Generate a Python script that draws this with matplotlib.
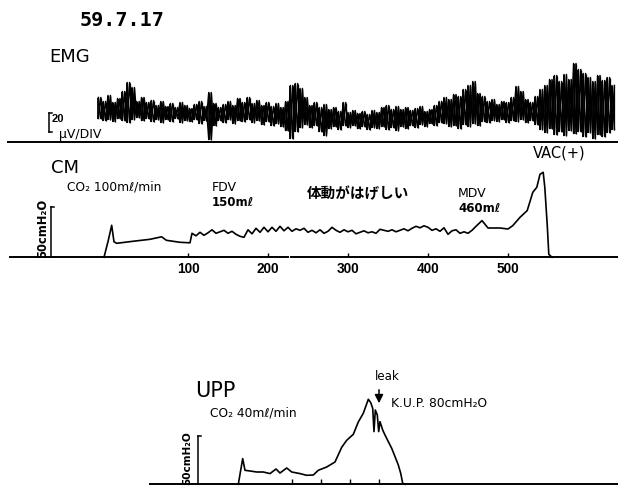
import numpy as np
import matplotlib
matplotlib.use("Agg")
import matplotlib.pyplot as plt
from matplotlib.font_manager import FontProperties

W, H = 618, 486

# ---------------- data ----------------
# EMG envelope (height above the EMG reference line, arbitrary units) sampled every 6 s from t=-12
emg_peaks = [44, 40, 46, 39, 43, 50, 59, 54, 40, 44, 39, 41, 36, 40, 35, 38, 34, 39, 36, 33,
             37, 40, 35, 49, 38, 34, 37, 40, 36, 43, 39, 44, 38, 41, 36, 39, 35, 38, 34, 40,
             56, 58, 53, 44, 36, 39, 34, 37, 32, 34, 30, 39, 29, 31, 28, 30, 27, 31, 29, 34,
             36, 32, 35, 32, 34, 31, 33, 35, 30, 32, 36, 40, 44, 42, 47, 45, 52, 56, 60, 48,
             45, 40, 42, 37, 40, 39, 44, 55, 50, 42, 39, 45, 52, 56, 62, 66, 60, 67, 62, 78,
             72, 68, 64, 60, 66, 61, 64, 56]
emg_troughs = [23, 21, 22, 20, 23, 21, 19, 22, 24, 21, 23, 20, 22, 19, 22, 20, 23, 19, 21, 20,
               22, 18, 21, 2, 16, 21, 19, 22, 18, 21, 20, 22, 19, 21, 17, 20, 16, 18, 15, 11,
               3, 10, 14, 17, 14, 16, 10, 6, 13, 15, 12, 16, 14, 16, 13, 15, 12, 14, 13, 15,
               12, 14, 11, 15, 13, 16, 14, 17, 15, 18, 16, 19, 18, 15, 16, 13, 17, 15, 18, 16,
               20, 19, 21, 20, 22, 19, 21, 20, 22, 19, 21, 17, 12, 9, 13, 7, 10, 6, 11, 8,
               10, 5, 9, 3, 7, 5, 9, 12]
emg_start, emg_step = -12, 6

# CM pressure (cmH2O) vs time (s)
cm_t = [-5, 0.4, 4.6, 7.5, 10.9, 31, 52.5, 67, 73, 90, 102.5,
        105, 110, 115, 120, 125, 130, 135, 140, 145, 150, 155, 160, 165, 170, 175, 180,
        185, 190, 195, 200, 205, 210, 215, 220, 225, 230, 235, 240, 245, 250, 255, 260,
        265, 270, 275, 280, 285, 290, 295, 300, 305, 310, 315, 320, 325, 330, 335, 340,
        345, 350, 355, 360, 365, 370, 375, 380, 385, 390, 395, 400, 405, 410, 415, 420,
        425, 430, 435, 440, 445, 450, 455, 460,
        467.5, 475, 490, 500, 506, 515, 524, 531, 536, 540, 544, 546, 549, 551, 555]
cm_p = [0, 17, 32, 15.5, 14, 16, 18, 20.5, 17, 15, 14.5,
        24, 21.5, 25, 22, 24.5, 27.5, 24, 25.5, 27, 24, 26, 23, 21, 20, 27.5, 23.5,
        29, 25, 30, 25.5, 30, 26, 31, 26.5, 30, 26, 28.5, 27, 29, 25, 27, 24.5,
        27.5, 24, 26, 30, 27, 25, 27.5, 25.5, 27, 23.5, 25, 26.5, 24.5, 25.5, 24, 28,
        27, 26, 27.5, 25.5, 27, 28.5, 26.5, 29, 31, 29.5, 31.5, 30, 27, 28.5, 26, 29.5,
        23, 26.5, 27.5, 24, 25.5, 24, 27, 31,
        36.7, 29.3, 29.3, 28.3, 31.7, 40, 46.7, 65, 70, 83, 85, 70, 33, 3, 0]
cm_ticks = [100, 200, 300, 400, 500]

# UPP pressure (cmH2O) vs time (s)
upp_t = [11.5, 26.8, 34.8, 52.3, 75.6, 98.6, 122, 142.9, 156.8, 180.1, 197.6, 226.5, 249.8,
         272.8, 290.2, 319.5, 348.4, 371.8, 389.2, 412.2, 429.6, 447, 464.5, 472.8, 479.8,
         484.3, 488.9, 495.8, 500.7, 505.2, 514.6, 522.6, 534.1, 546, 557.5, 569, 577.4,
         584.3, 592.3]
upp_p = [0, 25.7, 14, 13.3, 12.3, 12.3, 10.7, 15.3, 11.3, 16.3, 12.3, 10.7, 9,
         9.3, 14, 17.3, 22.3, 37, 44, 50, 62.3, 71, 85, 81.7, 76,
         52.7, 74.3, 69.3, 52.7, 62.7, 54.3, 49.3, 42.7, 36, 27.7, 19.3, 11,
         1, 0]
upp_ticks = [200, 300, 400, 500]

scale_bar = 50  # cmH2O

# ---------------- layout helpers ----------------
fig = plt.figure(figsize=(W / 100, H / 100), dpi=100)
fig.patch.set_facecolor("white")

def px_axes(y_top, y_bot):
    return fig.add_axes([0, 1 - y_bot / H, 1, (y_bot - y_top) / H])

def setup(ax):
    for s in ax.spines.values():
        s.set_color("none")
    ax.set_yticks([])
    ax.patch.set_alpha(0)

num_fp = FontProperties(family=["Liberation Sans", "DejaVu Sans"], weight="bold", size=9.8)

cm_x0, cm_k = 108, 0.8   # x_px = 108 + 0.8 t
def cm_xlim():
    return ((0 - cm_x0) / cm_k, (W - cm_x0) / cm_k)

# ---------------- EMG ----------------
emg_base = 141.5
ax_e = px_axes(60, 150)
setup(ax_e)
ax_e.set_xlim(*cm_xlim())
ax_e.set_ylim(-(150 - emg_base), emg_base - 60)
ax_e.set_xticks([])
n = len(emg_peaks)
tp = emg_start + emg_step * np.arange(n)
half = emg_step / 2
xa = np.empty(2 * n); ya = np.empty(2 * n)
xa[0::2] = tp; xa[1::2] = tp + half
ya[0::2] = emg_peaks; ya[1::2] = emg_troughs
xb = np.empty(2 * n); yb = np.empty(2 * n)
xb[0::2] = tp; xb[1::2] = tp + half
yb[0::2] = emg_troughs; yb[1::2] = emg_peaks
ax_e.plot(xa, ya, color="black", lw=1.1)
ax_e.plot(xb, yb, color="black", lw=1.1)
ax_e.vlines(tp, emg_troughs, emg_peaks, color="black", lw=1.3)
ax_e.vlines(tp + half, emg_troughs, emg_peaks, color="black", lw=0.9)
ax_e.plot([(8 - cm_x0) / cm_k, (W - cm_x0) / cm_k], [0, 0], color="black", lw=1.4)

# ---------------- CM ----------------
cm_base = 257.3
ax_c = px_axes(145, 282)
setup(ax_c)
ax_c.set_xlim(*cm_xlim())
ax_c.set_ylim(-(282 - cm_base), cm_base - 145)
ax_c.plot(cm_t, cm_p, color="black", lw=1.2)
ax_c.plot([(10 - cm_x0) / cm_k, (288 - cm_x0) / cm_k], [0, 0], color="black", lw=1.4)
ax_c.plot([(291 - cm_x0) / cm_k, (W - cm_x0) / cm_k], [0, 0], color="black", lw=1.4)
ax_c.spines["bottom"].set_position(("data", 0))
ax_c.set_xticks(cm_ticks)
ax_c.set_xticklabels([str(v) for v in cm_ticks], fontproperties=num_fp)
ax_c.tick_params(axis="x", direction="in", length=3, width=1, pad=3.5, color="black")
sb_t = (51 - cm_x0) / cm_k
ax_c.plot([sb_t, sb_t], [0, scale_bar], color="black", lw=1.1)
ax_c.plot([sb_t, sb_t + 3 / cm_k], [scale_bar, scale_bar], color="black", lw=1.1)

# ---------------- UPP ----------------
up_x0, up_k = 235, 0.287
upp_base = 484.3
ax_u = px_axes(360, 486)
setup(ax_u)
ax_u.set_xlim((0 - up_x0) / up_k, (W - up_x0) / up_k)
ax_u.set_ylim(-(486 - upp_base), upp_base - 360)
ax_u.plot(upp_t, upp_p, color="black", lw=1.2)
ax_u.plot([(150 - up_x0) / up_k, (W - up_x0) / up_k], [0, 0], color="black", lw=1.4)
ax_u.spines["bottom"].set_position(("data", 0))
ax_u.set_xticks(upp_ticks)
ax_u.set_xticklabels([])
ax_u.tick_params(axis="x", direction="in", length=3.5, width=1, color="black")
sbu = (197.7 - up_x0) / up_k
ax_u.plot([sbu, sbu], [0, scale_bar * 0.97], color="black", lw=1.1)
ax_u.plot([sbu, sbu + 3 / up_k], [scale_bar * 0.97, scale_bar * 0.97], color="black", lw=1.1)

# ---------------- annotations (pixel overlay) ----------------
ov = fig.add_axes([0, 0, 1, 1])
ov.set_xlim(0, W)
ov.set_ylim(H, 0)
ov.axis("off")
ov.patch.set_alpha(0)

def t(x, y, s, size, ha="left", va="center", **kw):
    if "fontproperties" not in kw:
        kw.setdefault("family", ["DejaVu Sans"])
        kw["fontsize"] = size
    ov.text(x, y, s, ha=ha, va=va, color="black", **kw)

t(122, 21, "59.7.17", 14.5, ha="center", family=["DejaVu Sans Mono"], fontweight="bold")
t(49, 57.5, "EMG", 13)
ov.plot([48.5, 48.5], [113, 132], color="black", lw=1.1)
ov.plot([48.5, 51.5], [113, 113], color="black", lw=1.1)
ov.plot([48.5, 51.5], [132, 132], color="black", lw=1.1)
t(51.5, 118.5, "20", 8, fontproperties=FontProperties(family=["Liberation Sans", "DejaVu Sans"], weight="bold", size=8))
t(59, 134, "μV/DIV", 9)

t(51, 168, "CM", 13)
t(67, 187, "CO₂ 100mℓ/min", 8.8)
t(212, 187.5, "FDV", 9)
t(212, 202.5, "150mℓ", 8.5, fontweight="bold")
t(307, 193, "体動がはげしい", 10.5, family=["Noto Sans CJK JP", "DejaVu Sans"], fontweight="bold")
t(458, 193, "MDV", 9)
t(458, 208, "460mℓ", 8.5, fontweight="bold")
t(533, 153, "VAC(+)", 10.5)
t(43, 228, "50cmH₂O", 8.3, ha="center", rotation=90, fontweight="bold")

t(195, 390.5, "UPP", 15)
t(210, 413, "CO₂ 40mℓ/min", 8.8)
t(375, 376, "leak", 8.5)
ov.annotate("", xy=(379, 406), xytext=(379, 387),
            arrowprops=dict(arrowstyle="-|>,head_width=0.25,head_length=0.5", color="black", lw=1.1))
t(391, 403, "K.U.P. 80cmH₂O", 8.8)
t(187, 458, "50cmH₂O", 7.6, ha="center", rotation=90, fontweight="bold")

fig.savefig("out.png", dpi=100, facecolor="white")
